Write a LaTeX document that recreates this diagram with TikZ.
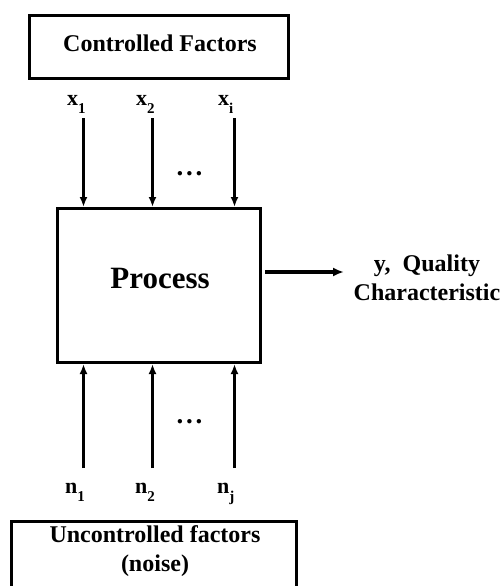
\documentclass[tikz,border=0pt]{standalone}
\usepackage{fontspec}
\setmainfont{Liberation Serif}
\usetikzlibrary{arrows.meta}
\begin{document}
\begin{tikzpicture}[x=1pt,y=-1pt,
  box/.style={draw, line width=3pt, inner sep=0pt},
  flow/.style={line width=3pt, -{Latex[length=10pt,width=8pt]}},
  outflow/.style={line width=3.2pt, -{Latex[length=11pt,width=9pt]}},
  lbl/.style={font=\fontsize{24}{29}\selectfont\bfseries, align=center, inner sep=0pt},
  big/.style={font=\fontsize{31}{34}\selectfont\bfseries, inner sep=0pt},
  var/.style={font=\fontsize{22}{24}\selectfont\bfseries, inner sep=0pt, anchor=base west},
  etc/.style={font=\fontsize{27}{28}\selectfont\bfseries, inner sep=0pt, anchor=base}]
\useasboundingbox (0,0) rectangle (502,586);

% boxes
\node[box, minimum width=259pt, minimum height=63pt] (ctrl) at (159,47) {};
\node[box, minimum width=203pt, minimum height=154pt] (proc) at (159,285.5) {};
\node[box, minimum width=285pt, minimum height=110pt] (noise) at (154,576.5) {};

% box texts
\node[lbl, anchor=base] (ctrltxt) at (160,52) {Controlled Factors};
\node[big, anchor=base] (proctxt) at (160,288) {Process};
\node[lbl, anchor=base] (noisetxt) at (155,571) {Uncontrolled factors\\(noise)};
\node[lbl, anchor=base] (ytxt) at (427,300) {y,\ \ Quality\\Characteristic};

% controlled inputs
\node[var] (x1) at (67,105) {x\raisebox{-8pt}{\fontsize{15}{15}\selectfont 1}};
\node[var] (x2) at (136,105) {x\raisebox{-8pt}{\fontsize{15}{15}\selectfont 2}};
\node[var] (xi) at (218,105) {x\raisebox{-8pt}{\fontsize{15}{15}\selectfont i}};
\node[etc] (xdots) at (189.5,175) {.\kern2.8pt.\kern2.8pt.};

% noise inputs
\node[var] (n1) at (65,493) {n\raisebox{-8pt}{\fontsize{15}{15}\selectfont 1}};
\node[var] (n2) at (135,493) {n\raisebox{-8pt}{\fontsize{15}{15}\selectfont 2}};
\node[var] (nj) at (217,493) {n\raisebox{-8pt}{\fontsize{15}{15}\selectfont j}};
\node[etc] (ndots) at (189.5,423) {.\kern2.8pt.\kern2.8pt.};

% arrow tails
\coordinate (tx1) at (83.5,118);
\coordinate (tx2) at (152.5,118);
\coordinate (txi) at (234.5,118);
\coordinate (tn1) at (83.5,468);
\coordinate (tn2) at (152.5,468);
\coordinate (tnj) at (234.5,468);
\coordinate (yend) at (344,272);

\draw[flow] (tx1) -- (tx1 |- proc.north);
\draw[flow] (tx2) -- (tx2 |- proc.north);
\draw[flow] (txi) -- (txi |- proc.north);
\draw[flow] (tn1) -- (tn1 |- proc.south);
\draw[flow] (tn2) -- (tn2 |- proc.south);
\draw[flow] (tnj) -- (tnj |- proc.south);
\draw[outflow] ([xshift=3pt]proc.east |- yend) -- (yend);
\end{tikzpicture}
\end{document}
